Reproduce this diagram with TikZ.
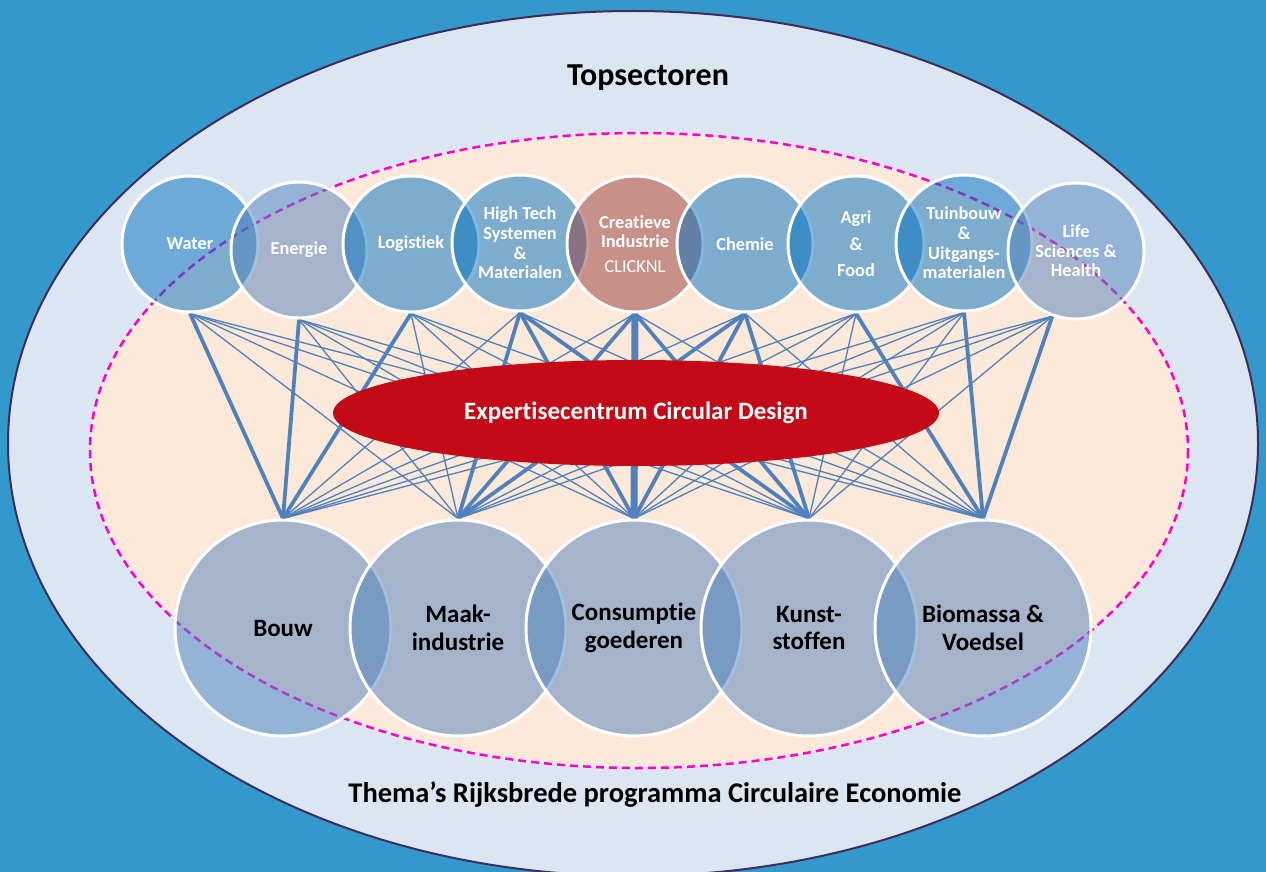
\documentclass[tikz,border=0pt]{standalone}
\usepackage{fontspec}
\setmainfont{Carlito}[Ligatures=NoCommon]
\usetikzlibrary{shapes.geometric}
\tikzset{>=latex}
\definecolor{seablue}{RGB}{51,153,204}
\definecolor{paleblue}{RGB}{220,230,242}
\definecolor{peach}{RGB}{253,233,217}
\definecolor{rimdark}{RGB}{62,44,90}
\definecolor{dashpink}{RGB}{255,0,204}
\definecolor{sectorblue}{RGB}{0,112,192}
\definecolor{themeblue}{RGB}{79,129,189}
\definecolor{clickred}{RGB}{147,57,59}
\definecolor{designred}{RGB}{196,10,22}
\pgfdeclarelayer{back}
\pgfdeclarelayer{links}
\pgfsetlayers{back,links,main}
\tikzset{
  sector/.style={circle, draw=white, line width=3pt, minimum size=136pt, inner sep=0pt,
    fill opacity=0.5, text opacity=1, text=white, align=center,
    font=\bfseries\fontsize{18.3}{19.6}\selectfont},
  theme/.style={circle, draw=white, line width=3pt, minimum size=216pt, inner sep=0pt,
    fill=themeblue, fill opacity=0.5, text opacity=1, align=center,
    font=\bfseries\fontsize{25}{27.5}\selectfont},
  link/.style={themeblue, line width=1.3pt},
  mainlink/.style={themeblue, line width=3.8pt},
  corelink/.style={themeblue, line width=7pt}
}

\begin{document}
\begin{tikzpicture}[x=1pt,y=-1pt]
  \useasboundingbox (0,0) rectangle (1266,872);
  % background and the two rings
  \begin{pgfonlayer}{back}
    \fill[seablue] (0,0) rectangle (1266,872);
    \draw[rimdark, fill=paleblue, line width=2pt] (633,443.5) ellipse [x radius=625, y radius=432.5];
    \draw[dashpink, fill=peach, line width=2.5pt, dash pattern=on 8pt off 5pt] (639,450.5) ellipse [x radius=549, y radius=317.5];
  \end{pgfonlayer}
  \node[font=\bfseries\fontsize{32}{36}\selectfont] (topsect) at (648,78) {Topsectoren};
  \node[font=\bfseries\fontsize{28.5}{32}\selectfont] (themas) at (655,795) {Thema’s Rijksbrede programma Circulaire Economie};

  % topsectoren
  \node[sector, fill=sectorblue] (water) at (190,244) {Water};
  \node[sector, fill=themeblue] (energie) at (299,250) {Energie};
  \node[sector, fill=sectorblue] (logistiek) at (411,244) {Logistiek};
  \node[sector, fill=sectorblue] (hightech) at (520,243) {High Tech\\Systemen\\\&\\Materialen};
  \node[sector, fill=clickred] (creatief) at (635,244) {Creatieve\\Industrie\\[5pt]{\mdseries CLICKNL}};
  \node[sector, fill=sectorblue] (chemie) at (745,244) {Chemie};
  \node[sector, fill=sectorblue] (agri) at (856,244) {Agri\\[7pt]\&\\[7pt]Food};
  \node[sector, fill=sectorblue] (tuinbouw) at (964,243) {Tuinbouw\\\&\\Uitgangs-\\materialen};
  \node[sector, fill=themeblue] (life) at (1076,251) {Life\\Sciences \&\\Health};

  % thema's
  \node[theme] (bouw) at (283,628) {Bouw};
  \node[theme] (maak) at (458,628) {Maak-\\industrie};
  \node[theme] (consumptie) at (634,628) {Consumptie\\goederen};
  \node[theme] (kunststof) at (809,628) {Kunst-\\stoffen};
  \node[theme] (biomassa) at (983,628) {Biomassa \&\\Voedsel};

  \node[ellipse, fill=designred, minimum width=606pt, minimum height=106pt, text=white,
    font=\bfseries\fontsize{25}{28}\selectfont] (design) at (636,413) {Expertisecentrum Circular Design};

  % every sector to every theme
  \begin{pgfonlayer}{links}
    \foreach \s/\a in {water/south,energie/south,logistiek/south,hightech/south,creatief/south,chemie/south,agri/south,tuinbouw/south,life/-110}
      \foreach \t in {bouw,maak,consumptie,kunststof,biomassa}
        \draw[link] (\s.\a) -- (\t.north);
    \foreach \s in {water,energie,logistiek}
      \draw[mainlink] (\s.south) -- (bouw.north);
    \foreach \s in {hightech,creatief,chemie}
      \foreach \t in {maak,consumptie,kunststof}
        \draw[mainlink] (\s.south) -- (\t.north);
    \foreach \s/\a in {agri/south,tuinbouw/south,life/-110}
      \draw[mainlink] (\s.\a) -- (biomassa.north);
    \draw[corelink] (creatief.south) -- (consumptie.north);
  \end{pgfonlayer}
\end{tikzpicture}
\end{document}
